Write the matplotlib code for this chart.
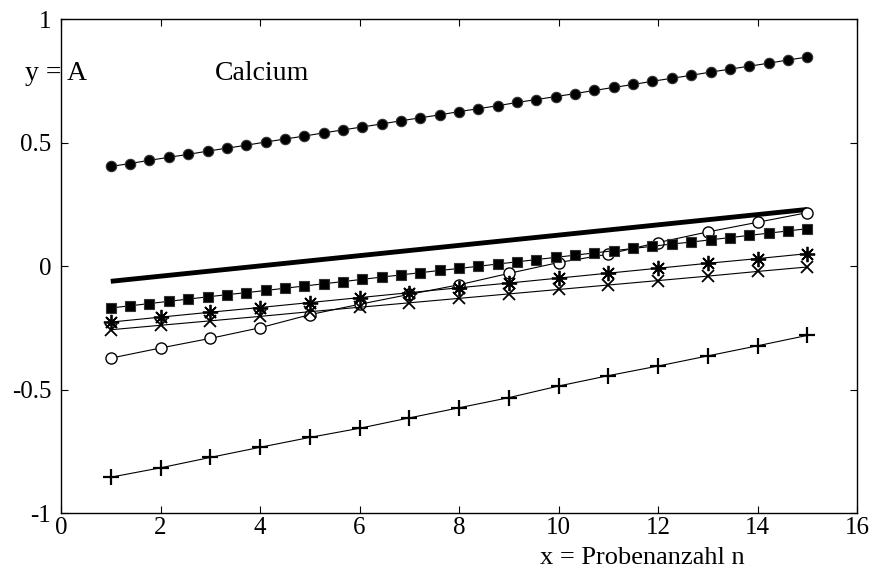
import matplotlib.pyplot as plt
import numpy as np

plt.rcParams['font.family'] = ['Liberation Serif', 'DejaVu Serif']

# dense series (37 samples between n=1 and n=15)
x_dense = np.linspace(1, 15, 37)
y_dots = [0.403, 0.415, 0.428, 0.440, 0.452, 0.465, 0.477, 0.489, 0.502, 0.514,
          0.526, 0.539, 0.551, 0.563, 0.575, 0.588, 0.600, 0.612, 0.625, 0.637,
          0.649, 0.662, 0.674, 0.686, 0.698, 0.711, 0.723, 0.735, 0.748, 0.760,
          0.772, 0.785, 0.797, 0.809, 0.821, 0.834, 0.846]
y_squares = [-0.170, -0.161, -0.152, -0.143, -0.134, -0.125, -0.116, -0.108, -0.099,
             -0.090, -0.081, -0.072, -0.063, -0.054, -0.045, -0.036, -0.027, -0.018,
             -0.010, -0.001, 0.008, 0.017, 0.026, 0.035, 0.044, 0.053, 0.062, 0.071,
             0.080, 0.089, 0.097, 0.106, 0.115, 0.124, 0.133, 0.142, 0.151]

# thick reference line
x_thick = [1, 15]
y_thick = [-0.062, 0.229]

# series sampled at n = 1..15
n = list(range(1, 16))
y_star = [-0.227, -0.207, -0.187, -0.168, -0.148, -0.128, -0.108, -0.088,
          -0.069, -0.049, -0.029, -0.009, 0.011, 0.030, 0.050]
y_cross = [-0.258, -0.240, -0.222, -0.204, -0.185, -0.167, -0.149, -0.131,
           -0.113, -0.095, -0.077, -0.059, -0.041, -0.022, -0.004]
y_open = [-0.373, -0.332, -0.293, -0.250, -0.197, -0.155, -0.115, -0.076,
          -0.030, 0.014, 0.048, 0.095, 0.138, 0.177, 0.216]
y_plus = [-0.855, -0.817, -0.775, -0.734, -0.694, -0.657, -0.615, -0.574,
          -0.533, -0.486, -0.444, -0.405, -0.364, -0.323, -0.281]

xticks = [0, 2, 4, 6, 8, 10, 12, 14, 16]
yticks = [-1, -0.5, 0, 0.5, 1]
ytick_labels = ['-1', '-0.5', '0', '0.5', '1']

fig = plt.figure(figsize=(8.73, 5.69), dpi=100)
ax = fig.add_axes([0.0699, 0.0984, 0.9118, 0.8682])

lw = 0.8
ax.plot(x_dense, y_dots, color='black', lw=lw, marker='o', ms=7.5,
        mfc='black', mec='#333333', mew=0.8)
ax.plot(x_thick, y_thick, color='black', lw=3.5, solid_capstyle='butt')
ax.plot(n, y_open, color='black', lw=lw, marker='o', ms=8, mfc='white',
        mec='black', mew=1.0)
ax.plot(n, y_star, color='black', lw=lw, marker=(8, 2, 0), ms=11, mew=1.3)
ax.plot(n, y_cross, color='black', lw=lw, marker='x', ms=8, mew=1.3)
ax.plot(x_dense, y_squares, color='black', lw=lw, marker='s', ms=6.5,
        mfc='black', mec='#333333', mew=0.8)
ax.plot(n, y_plus, color='black', lw=lw, marker='+', ms=11, mew=1.6)

ax.set_xlim(0, 16)
ax.set_ylim(-1, 1)
ax.set_xticks(xticks)
ax.set_xticklabels([str(t) for t in xticks])
ax.set_yticks(yticks)
ax.set_yticklabels(ytick_labels)
ax.tick_params(direction='in', length=5, width=0.8, top=True, right=True,
               labelsize=18)
ax.tick_params(axis='x', pad=3)
ax.tick_params(axis='y', pad=7)
for s in ax.spines.values():
    s.set_linewidth(1.0)

ax.text(-0.72, 0.78, 'y = A', fontsize=20, va='center', ha='left', clip_on=False)
ax.text(3.1, 0.78, 'Calcium', fontsize=20, va='center', ha='left')
fig.text(642 / 873, 0, 'x = Probenanzahl n', fontsize=19,
         ha='center', va='bottom')

fig.savefig('out.png', dpi=100)
